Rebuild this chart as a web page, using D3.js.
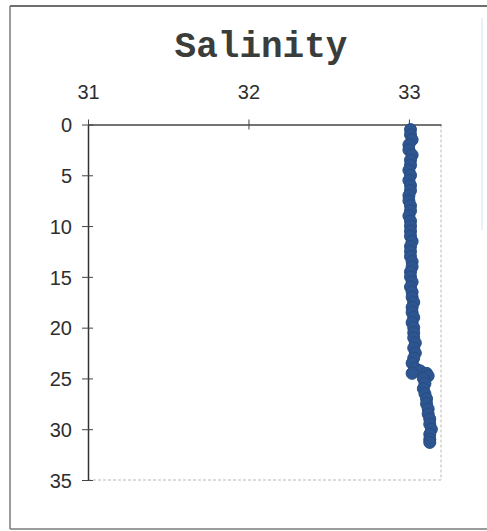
<!DOCTYPE html>
<html>
<head>
<meta charset="utf-8">
<script src="https://cdn.jsdelivr.net/npm/d3@7"></script>
<style>
  html, body { margin: 0; padding: 0; background: #fff; }
  svg { display: block; }
</style>
</head>
<body>
<svg id="chart" width="487" height="531"></svg>
<script>
// CTD cast: depth (m) and salinity readings
const depths = [
  0.5, 1.0, 1.5, 2.0, 2.5, 3.0, 3.5, 4.0, 4.5, 5.0,
  5.5, 6.0, 6.5, 7.0, 7.5, 8.0, 8.5, 9.0, 9.5, 10.0,
  10.5, 11.0, 11.5, 12.0, 12.5, 13.0, 13.5, 14.0, 14.5, 15.0,
  15.5, 16.0, 16.5, 17.0, 17.5, 18.0, 18.5, 19.0, 19.5, 20.0,
  20.5, 21.0, 21.5, 22.0, 22.5, 23.0, 23.5, 24.0, 24.25, 24.5,
  24.5, 24.75, 25.0, 25.5, 26.0, 26.5, 27.0, 27.5, 28.0, 28.5,
  29.0, 29.5, 30.0, 30.5, 31.0, 31.3
];
const salinity = [
  33.01, 33.01, 33.02, 33.00, 33.00, 33.02, 33.01, 33.01, 33.00, 33.01,
  33.00, 33.01, 33.01, 33.00, 33.00, 33.01, 33.01, 33.00, 33.01, 33.01,
  33.01, 33.01, 33.02, 33.01, 33.01, 33.01, 33.02, 33.02, 33.01, 33.01,
  33.02, 33.01, 33.02, 33.02, 33.03, 33.02, 33.02, 33.03, 33.02, 33.03,
  33.03, 33.03, 33.04, 33.03, 33.04, 33.03, 33.02, 33.04, 33.07, 33.11,
  33.02, 33.12, 33.09, 33.10, 33.09, 33.10, 33.11, 33.11, 33.12, 33.12,
  33.13, 33.13, 33.14, 33.13, 33.13, 33.13
];
const xTicks = [31, 32, 33];
const yTicks = [0, 5, 10, 15, 20, 25, 30, 35];

const svg = d3.select("#chart");

// outer frame
const frame = svg.append("g");
frame.append("line").attr("x1", 10).attr("x2", 487).attr("y1", 6).attr("y2", 6)
  .attr("stroke", "#6e6e6e").attr("stroke-width", 2);
frame.append("line").attr("x1", 10).attr("x2", 10).attr("y1", 6).attr("y2", 529)
  .attr("stroke", "#7a7a7a").attr("stroke-width", 1.5);
frame.append("line").attr("x1", 10).attr("x2", 487).attr("y1", 529).attr("y2", 529)
  .attr("stroke", "#7a7a7a").attr("stroke-width", 1.5);
frame.append("line").attr("x1", 482).attr("x2", 482).attr("y1", 18).attr("y2", 230)
  .attr("stroke", "#eaf1f5").attr("stroke-width", 2);

const plot = { left: 88, top: 124.5, right: 441, bottom: 480 };

const x = d3.scaleLinear().domain([31, 33.2]).range([plot.left, plot.right]);
const y = d3.scaleLinear().domain([0, 35]).range([plot.top, plot.bottom]);

// title
svg.append("text")
  .attr("x", 261).attr("y", 57)
  .attr("text-anchor", "middle")
  .attr("font-family", "'Liberation Mono', 'Courier New', monospace")
  .attr("font-weight", "bold")
  .attr("font-size", 36)
  .attr("fill", "#3a3d3a")
  .text("Salinity");

// light right and bottom borders of the plot area
svg.append("line")
  .attr("x1", plot.right).attr("x2", plot.right)
  .attr("y1", plot.top).attr("y2", plot.bottom)
  .attr("stroke", "#b8b8b8").attr("stroke-width", 1)
  .attr("stroke-dasharray", "3,2");
svg.append("line")
  .attr("x1", plot.left).attr("x2", plot.right)
  .attr("y1", plot.bottom).attr("y2", plot.bottom)
  .attr("stroke", "#b8b8b8").attr("stroke-width", 1)
  .attr("stroke-dasharray", "3,2");

// top salinity axis
const xAxis = d3.axisTop(x).tickValues(xTicks).tickFormat(d3.format("d"))
  .tickSizeInner(6).tickSizeOuter(0).tickPadding(20);
const gx = svg.append("g").attr("transform", `translate(0,${plot.top})`).call(xAxis);
gx.select(".domain").attr("stroke", "#444").attr("stroke-width", 1.5);
gx.selectAll(".tick line").attr("stroke", "#444").attr("y2", -5)
  .attr("y1", 5);
gx.selectAll(".tick text")
  .attr("font-family", "'Liberation Sans', Arial, sans-serif")
  .attr("font-size", 20).attr("fill", "#2e2e2e");

// left depth axis
const yAxis = d3.axisLeft(y).tickValues(yTicks).tickFormat(d3.format("d"))
  .tickSizeInner(6).tickSizeOuter(0).tickPadding(10);
const gy = svg.append("g").attr("transform", `translate(${plot.left},0)`).call(yAxis);
gy.select(".domain").attr("stroke", "#333").attr("stroke-width", 1.5);
gy.selectAll(".tick line").attr("stroke", "#444").attr("x1", 5).attr("x2", -6);
gy.selectAll(".tick text")
  .attr("font-family", "'Liberation Sans', Arial, sans-serif")
  .attr("font-size", 20).attr("fill", "#2e2e2e")
  .attr("dy", "0.36em");

// profile markers
const points = depths.map((d, i) => ({ depth: d, sal: salinity[i] }));
svg.append("g").selectAll("circle")
  .data(points)
  .join("circle")
  .attr("cx", p => x(p.sal))
  .attr("cy", p => y(p.depth))
  .attr("r", 6)
  .attr("fill", "#2d5690")
  .attr("stroke", "#284c84")
  .attr("stroke-width", 1);
</script>
</body>
</html>
